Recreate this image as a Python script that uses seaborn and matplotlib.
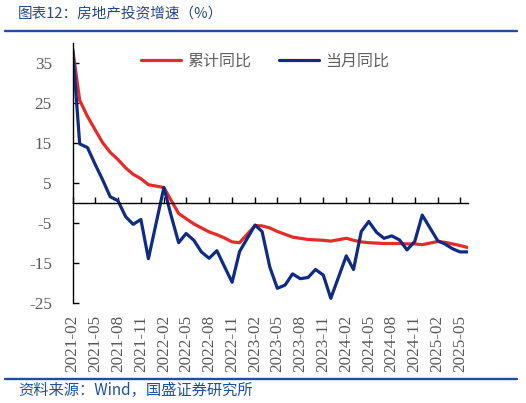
import matplotlib
matplotlib.use('Agg')
import matplotlib.pyplot as plt
from matplotlib.lines import Line2D
import seaborn as sns
import pandas as pd

# ---- data (January values are not published; the line joins Dec to Feb) ----
months = [
    '2021-02', '2021-03', '2021-04', '2021-05', '2021-06', '2021-07', '2021-08', '2021-09', '2021-10', '2021-11', '2021-12',
    '2022-02', '2022-03', '2022-04', '2022-05', '2022-06', '2022-07', '2022-08', '2022-09', '2022-10', '2022-11', '2022-12',
    '2023-02', '2023-03', '2023-04', '2023-05', '2023-06', '2023-07', '2023-08', '2023-09', '2023-10', '2023-11', '2023-12',
    '2024-02', '2024-03', '2024-04', '2024-05', '2024-06', '2024-07', '2024-08', '2024-09', '2024-10', '2024-11', '2024-12',
    '2025-02', '2025-03', '2025-04', '2025-05', '2025-06',
]
cum_yoy = [
    38.3, 25.6, 21.6, 18.3, 15.0, 12.6, 10.8, 8.7, 7.1, 6.0, 4.5,
    3.8, 0.7, -2.7, -4.0, -5.3, -6.3, -7.3, -8.0, -8.8, -9.8, -10.0,
    -5.7, -5.8, -6.3, -7.2, -7.9, -8.6, -8.9, -9.2, -9.3, -9.4, -9.6,
    -8.9, -9.4, -9.8, -10.0, -10.1, -10.2, -10.2, -10.2, -10.3, -10.3, -10.5,
    -9.7, -9.9, -10.3, -10.7, -11.2,
]
mon_yoy = [
    38.3, 14.7, 13.8, 9.7, 5.7, 1.5, 0.5, -3.5, -5.4, -4.2, -14.0,
    3.8, -3.0, -10.0, -7.7, -9.4, -12.3, -13.9, -12.0, -15.9, -19.9, -12.2,
    -5.6, -7.2, -16.1, -21.4, -20.6, -17.8, -19.0, -18.7, -16.7, -18.1, -23.9,
    -13.3, -16.7, -7.2, -4.7, -7.4, -8.9, -8.3, -9.3, -11.8, -9.7, -3.1,
    -9.5, -10.3, -11.5, -12.3, -12.3,
]
series_names = ['累计同比', '当月同比']
series_colors = ['#E52A27', '#0E2C84']
tick_months = ['2021-02', '2021-05', '2021-08', '2021-11', '2022-02', '2022-05', '2022-08', '2022-11',
               '2023-02', '2023-05', '2023-08', '2023-11', '2024-02', '2024-05', '2024-08', '2024-11',
               '2025-02', '2025-05']
y_ticks = [-25, -15, -5, 5, 15, 25, 35]
y_range = (-25, 40)
title_text = '图表12：房地产投资增速（%）'
source_text = '资料来源：Wind，国盛证券研究所'

# ---- style ----
sns.set_theme(style='white')
plt.rcParams['font.family'] = ['Noto Sans CJK SC', 'DejaVu Sans']
plt.rcParams['axes.unicode_minus'] = False

df = pd.DataFrame({'date': pd.to_datetime(months), series_names[0]: cum_yoy, series_names[1]: mon_yoy})
long_df = df.melt(id_vars='date', var_name='series', value_name='value')

fig = plt.figure(figsize=(5.26, 4.03), dpi=100)
ax = fig.add_axes([72.7 / 526, 1 - 302.7 / 403, (467.7 - 72.7) / 526, (302.7 - 42.7) / 403])

sns.lineplot(data=long_df, x='date', y='value', hue='series', hue_order=series_names,
             palette=series_colors, linewidth=2.3, ax=ax, legend=True)

ax.set_xlim(df['date'].iloc[0], df['date'].iloc[-1])
ax.set_ylim(*y_range)
ax.set_xlabel('')
ax.set_ylabel('')

for s in ['top', 'right']:
    ax.spines[s].set_visible(False)
ax.spines['left'].set_color('black')
ax.spines['left'].set_linewidth(1.0)
ax.spines['bottom'].set_position(('data', 0))
ax.spines['bottom'].set_color('black')
ax.spines['bottom'].set_linewidth(1.0)

ax.set_xticks(pd.to_datetime(tick_months))
ax.set_xticklabels(tick_months, rotation=90, family='Liberation Serif', fontsize=12.3, color='#595959')
ax.tick_params(axis='x', which='major', bottom=True, direction='in', length=4, width=1,
               color='black', pad=81)
ax.set_yticks(y_ticks)
ax.set_yticklabels([str(v) for v in y_ticks], family='Liberation Serif', fontsize=12.3, color='#595959')
ax.tick_params(axis='y', which='major', left=True, direction='in', length=4, width=1,
               color='black', pad=15)
ax.grid(False)

handles, labels = ax.get_legend_handles_labels()
ax.legend(handles, labels, loc='center', bbox_to_anchor=(0.487, 0.93), ncol=2, frameon=False,
          fontsize=11.5, handlelength=2.5, handletextpad=0.4, columnspacing=1.7, labelcolor='#606060')

# ---- title, rules and source ----
fig.text(18 / 526, 1 - 14 / 403, title_text, ha='left', va='center', fontsize=10.5,
         style='italic', color='#26458A')
fig.add_artist(Line2D([5 / 526, 517 / 526], [1 - 30.5 / 403, 1 - 30.5 / 403],
                      transform=fig.transFigure, color='#1F4E9C', linewidth=1.7))
fig.add_artist(Line2D([5 / 526, 517 / 526], [1 - 378.7 / 403, 1 - 378.7 / 403],
                      transform=fig.transFigure, color='#1F4E9C', linewidth=1.7))
fig.text(18 / 526, 1 - 390 / 403, source_text, ha='left', va='center', fontsize=11,
         style='italic', color='#1F4FA0')

fig.savefig('out.png', dpi=100)
